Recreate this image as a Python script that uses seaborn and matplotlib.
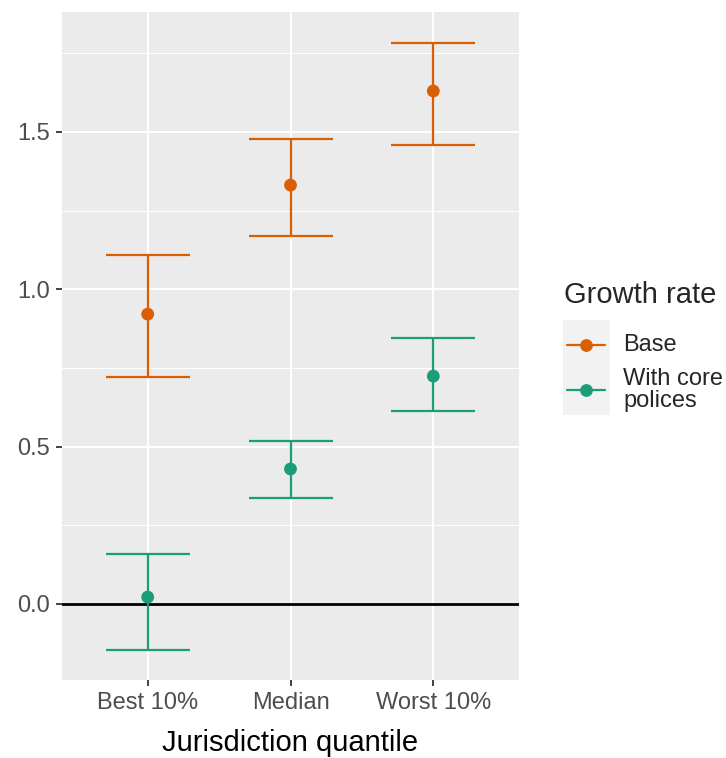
import pandas as pd
import matplotlib
matplotlib.use("Agg")
import matplotlib.pyplot as plt
import seaborn as sns
from matplotlib.lines import Line2D
from matplotlib.patches import Rectangle

# --- Data ---
quantiles = ["Best 10%", "Median", "Worst 10%"]
series = ["Base", "With core\npolices"]
base_est = [0.921, 1.331, 1.630]
base_lo = [0.721, 1.169, 1.459]
base_hi = [1.109, 1.478, 1.783]
core_est = [0.022, 0.429, 0.724]
core_lo = [-0.146, 0.337, 0.613]
core_hi = [0.159, 0.518, 0.845]
colors = {"Base": "#D95F02", "With core\npolices": "#1B9E77"}

df = pd.DataFrame({
    "quantile": quantiles * 2,
    "growth": [series[0]] * 3 + [series[1]] * 3,
    "est": base_est + core_est,
    "lo": base_lo + core_lo,
    "hi": base_hi + core_hi,
})

sns.set_theme(style="darkgrid")
plt.rcParams["font.family"] = ["Liberation Sans", "DejaVu Sans"]

fig = plt.figure(figsize=(7.26, 7.58), dpi=100)
W, H = 726, 758
ax = fig.add_axes([62 / W, 1 - 680 / H, (519 - 62) / W, (680 - 12) / H])
ax.set_facecolor("#EBEBEB")

# --- Error bars + points ---
for g in series:
    d = df[df["growth"] == g]
    ax.errorbar(d["quantile"], d["est"],
                yerr=[d["est"] - d["lo"], d["hi"] - d["est"]],
                fmt="none", ecolor=colors[g], elinewidth=1.6,
                capsize=30.2, capthick=1.6, zorder=3)
sns.scatterplot(data=df, x="quantile", y="est", hue="growth", palette=colors,
                s=85, edgecolor="none", legend=False, ax=ax, zorder=4)

ax.axhline(0, color="black", lw=2.0, zorder=2)

# --- Axes styling (ggplot-like) ---
ax.set_xlim(-0.6, 2.6)
ax.set_ylim(-0.2415, 1.881)
ax.set_yticks([0.0, 0.5, 1.0, 1.5])
ax.set_yticklabels(["0.0", "0.5", "1.0", "1.5"])
ax.set_yticks([0.25, 0.75, 1.25, 1.75], minor=True)
ax.grid(which="major", color="white", lw=1.5)
ax.grid(which="minor", axis="y", color="white", lw=0.75)
ax.grid(which="minor", axis="x", visible=False)
for s in ax.spines.values():
    s.set_visible(False)
ax.tick_params(axis="both", which="major", length=4.5, width=1.3, color="#333333",
               labelcolor="#4D4D4D", labelsize=17, pad=4, left=True, bottom=True)
ax.tick_params(axis="both", which="minor", length=0)
ax.set_xlabel("Jurisdiction quantile", fontsize=21, color="black")
ax.xaxis.label.set_va("baseline")
ax.xaxis.set_label_coords(0.5, -(751 - 680) / (680 - 12))
ax.set_ylabel("")

# --- Legend (ggplot style) ---
fig.text(564 / W, 1 - 303 / H, "Growth rate", fontsize=21, va="baseline", ha="left")
fig.add_artist(Rectangle((563 / W, 1 - 415 / H), 47 / W, 95 / H,
                         transform=fig.transFigure, facecolor="#F2F2F2",
                         edgecolor="none"))
for g, yk in [("Base", 345), ("With core\npolices", 390)]:
    fig.add_artist(Line2D([567 / W, 605 / W], [1 - yk / H] * 2,
                          transform=fig.transFigure, color=colors[g], lw=1.6))
    fig.add_artist(Line2D([586 / W], [1 - yk / H], transform=fig.transFigure,
                          color=colors[g], marker="o", markersize=9.2,
                          markeredgewidth=0))
    fig.text(623 / W, 1 - yk / H, g, fontsize=17, va="center", ha="left",
             linespacing=0.95)

fig.savefig("out.png", dpi=100)
